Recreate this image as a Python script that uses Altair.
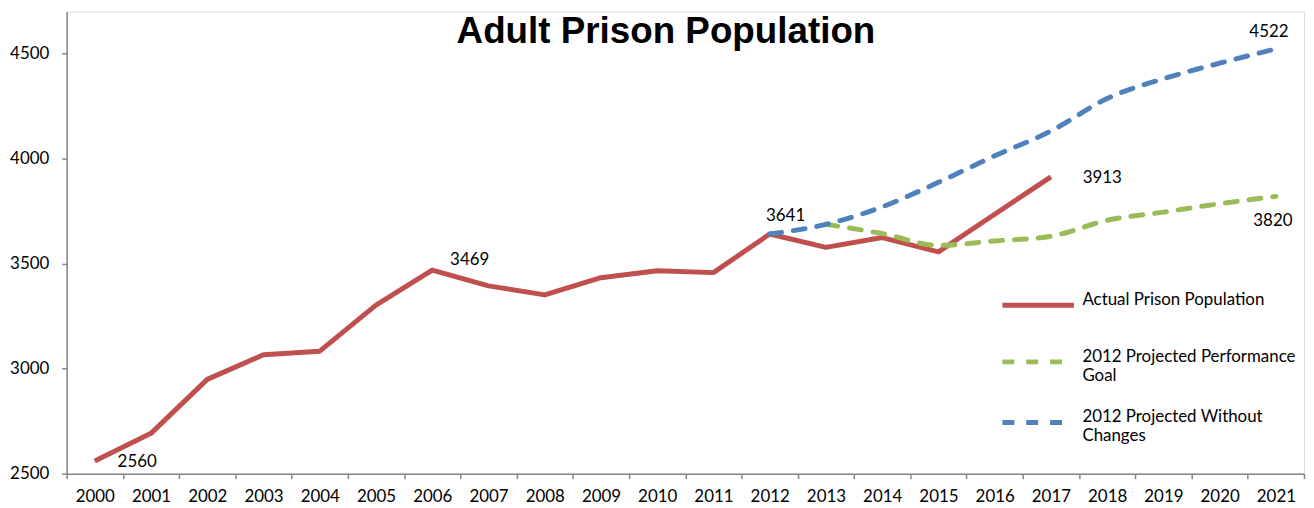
import altair as alt
import pandas as pd

# ---------------- data ----------------
title_text = "Adult Prison Population"

years = ["2000", "2001", "2002", "2003", "2004", "2005", "2006", "2007", "2008", "2009", "2010",
         "2011", "2012", "2013", "2014", "2015", "2016", "2017", "2018", "2019", "2020", "2021"]

actual_name = "Actual Prison Population"
goal_name = "2012 Projected Performance Goal"
nochange_name = "2012 Projected Without Changes"

actual_years = years[0:18]
actual_values = [2560, 2692, 2949, 3066, 3083, 3302, 3469, 3394, 3351, 3433, 3466,
                 3457, 3641, 3577, 3624, 3556, 3735, 3913]

nochange_years = years[12:22]
nochange_values = [3641, 3687, 3770, 3887, 4013, 4131, 4286, 4380, 4454, 4522]

goal_years = years[13:22]
goal_values = [3687, 3643, 3587, 3608, 3630, 3706, 3745, 3785, 3820]

y_ticks = [2500, 3000, 3500, 4000, 4500]

RED = "#C0504D"
GREEN = "#9BBB59"
BLUE = "#4F81BD"
FONT = "Lato"
FS = 17
DASH = [12, 12]

df_actual = pd.DataFrame({"Year": actual_years, "Value": actual_values, "Series": actual_name})
df_goal = pd.DataFrame({"Year": goal_years, "Value": goal_values, "Series": goal_name})
df_nochange = pd.DataFrame({"Year": nochange_years, "Value": nochange_values, "Series": nochange_name})
df_proj = pd.concat([df_goal, df_nochange], ignore_index=True)

x_enc = alt.X(
    "Year:O",
    sort=years,
    scale=alt.Scale(type="band", domain=years, paddingInner=0, paddingOuter=0),
    bandPosition=0.5,
    axis=alt.Axis(
        title=None, tickBand="extent", labelAngle=0, labelFont=FONT, labelFontSize=FS,
        labelColor="black", domainColor="#868686", tickColor="#868686", tickSize=5,
        domainWidth=1.5, tickWidth=1.5, labelPadding=10, grid=False,
    ),
)
y_enc = alt.Y(
    "Value:Q",
    scale=alt.Scale(domain=[2500, 4700], nice=False, zero=False),
    axis=alt.Axis(
        title=None, values=y_ticks, format="d", labelFont=FONT, labelFontSize=FS,
        labelColor="black", domainColor="#868686", tickColor="#868686", tickSize=5,
        domainWidth=1.5, tickWidth=1.5, labelPadding=13, grid=False,
    ),
)

legend_common = dict(
    orient="none", title=None, symbolType="stroke", symbolSize=5184, symbolStrokeWidth=5,
    labelFont=FONT, labelFontSize=FS, labelColor="black", labelOffset=6,
    labelBaseline="alphabetic", labelLimit=400, padding=0,
)

actual_line = alt.Chart(df_actual).mark_line(strokeWidth=5, strokeJoin="round").encode(
    x=x_enc,
    y=y_enc,
    color=alt.Color(
        "Series:N",
        scale=alt.Scale(domain=[actual_name], range=[RED]),
        legend=alt.Legend(legendX=939, legendY=257, **legend_common),
    ),
)

proj_line = alt.Chart(df_proj).mark_line(
    strokeWidth=5, strokeDash=DASH, strokeCap="round", interpolate="monotone"
).encode(
    x=x_enc,
    y=y_enc,
    color=alt.Color(
        "Series:N",
        scale=alt.Scale(domain=[goal_name, nochange_name], range=[GREEN, BLUE]),
        legend=alt.Legend(
            legendX=939, legendY=314, symbolDash=DASH, rowPadding=-2,
            labelExpr=("datum.label == '2012 Projected Performance Goal' ? "
                       "['2012 Projected Performance', 'Goal'] : "
                       "['2012 Projected Without', 'Changes']"),
            **legend_common,
        ),
    ),
)


def label_layer(df, year, dx, dy, align):
    sub = df[df["Year"] == year]
    return alt.Chart(sub).mark_text(
        font=FONT, fontSize=FS, color="black", align=align, baseline="middle", dx=dx, dy=dy
    ).encode(x=x_enc, y=y_enc, text=alt.Text("Value:Q", format="d"))


labels = [
    label_layer(df_actual, "2000", 23, 1, "left"),
    label_layer(df_actual, "2006", 18, -10, "left"),
    label_layer(df_actual, "2012", 16, -18, "center"),
    label_layer(df_actual, "2017", 32, 1, "left"),
    label_layer(df_nochange, "2021", -7, -17, "center"),
    label_layer(df_goal, "2021", -3, 25, "center"),
]

title_layer = alt.Chart(pd.DataFrame({"t": [title_text]})).mark_text(
    font="Liberation Sans", fontSize=37, fontWeight="bold", color="black",
    align="center", baseline="alphabetic",
).encode(text="t:N", x=alt.value(603), y=alt.value(32))

chart = alt.layer(actual_line, proj_line, *labels, title_layer).resolve_scale(
    color="independent"
).properties(
    width=1245,
    height=465,
    padding={"left": 59, "top": 2, "right": 2, "bottom": 33},
    autosize=alt.AutoSizeParams(type="none"),
).configure_view(stroke=None).configure(background="white")

chart.save("out.html", embed_options={"renderer": "svg", "actions": False})
